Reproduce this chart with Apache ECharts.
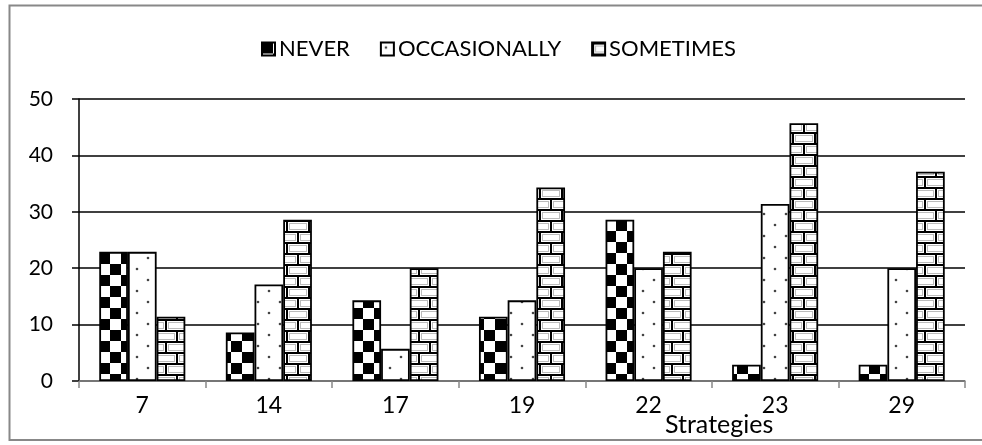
<!DOCTYPE html>
<html>
<head>
<meta charset="utf-8">
<script src="https://cdn.jsdelivr.net/npm/echarts@6/dist/echarts.min.js"></script>
<style>
html,body{margin:0;padding:0;background:#fff;}
#chart{width:982px;height:445px;}
</style>
</head>
<body>
<div id="chart"></div>
<script>
// Data
const categories = ['7', '14', '17', '19', '22', '23', '29'];
const seriesNames = ['NEVER', 'OCCASIONALLY', 'SOMETIMES'];
const neverValues = [22.9, 8.6, 14.3, 11.4, 28.6, 2.9, 2.9];
const occasionallyValues = [22.9, 17.1, 5.7, 14.3, 20.0, 31.4, 20.0];
const sometimesValues = [11.4, 28.6, 20.0, 34.3, 22.9, 45.7, 37.1];
const xAxisTitle = 'Strategies';

// Patterns
function makeCanvas(w, h, draw) {
  const c = document.createElement('canvas');
  c.width = w; c.height = h;
  draw(c.getContext('2d'));
  return c;
}
const checker = makeCanvas(22, 22, function (g) {
  g.fillStyle = '#fff'; g.fillRect(0, 0, 22, 22);
  g.fillStyle = '#000';
  g.fillRect(0, 0, 11, 11);
  g.fillRect(11, 11, 11, 11);
});
const dots = makeCanvas(22, 22, function (g) {
  g.fillStyle = '#fff'; g.fillRect(0, 0, 22, 22);
  g.fillStyle = '#444';
  g.beginPath(); g.arc(5, 5, 1.3, 0, Math.PI * 2); g.fill();
  g.beginPath(); g.arc(16, 16, 1.3, 0, Math.PI * 2); g.fill();
});
const brick = makeCanvas(22, 22, function (g) {
  g.fillStyle = '#fff'; g.fillRect(0, 0, 22, 22);
  g.strokeStyle = '#bbb'; g.lineWidth = 1;
  g.strokeRect(3.5, 3.5, 17, 6);
  g.strokeRect(14.5, 14.5, 17, 6);
  g.strokeRect(-7.5, 14.5, 17, 6);
  g.fillStyle = '#000';
  g.fillRect(0, 0, 22, 2);
  g.fillRect(0, 11, 22, 2);
  g.fillRect(0, 0, 2, 11);
  g.fillRect(11, 11, 2, 11);
});
const patterns = [checker, dots, brick];
const valuesList = [neverValues, occasionallyValues, sometimesValues];

const FONT = 'Lato';
const chart = echarts.init(document.getElementById('chart'));
chart.setOption({
  animation: false,
  backgroundColor: '#fff',
  textStyle: { fontFamily: FONT },
  legend: {
    top: 33,
    left: 256,
    itemWidth: 13,
    itemHeight: 13,
    itemGap: 30,
    icon: 'rect',
    textStyle: { fontFamily: FONT, fontSize: 22, color: '#000', padding: [0, 0, 0, -1] },
    data: seriesNames
  },
  grid: { left: 79, right: 17, top: 99, bottom: 64, containLabel: false },
  xAxis: {
    type: 'category',
    data: categories,
    axisLine: { lineStyle: { color: '#888', width: 1.5 } },
    axisTick: { show: true, length: 7, lineStyle: { color: '#888', width: 1.5 } },
    axisLabel: { fontFamily: FONT, fontSize: 23, color: '#000', margin: 13 }
  },
  yAxis: {
    type: 'value',
    min: 0, max: 50, interval: 10,
    axisLine: { show: true, lineStyle: { color: '#000', width: 1.5 } },
    axisTick: { show: true, length: 7, lineStyle: { color: '#000', width: 1.5 } },
    axisLabel: { fontFamily: FONT, fontSize: 21, color: '#000', margin: 26 },
    splitLine: { lineStyle: { color: '#000', width: 1.5 } }
  },
  graphic: [
    { type: 'rect', z: -1, shape: { x: 9.5, y: 5.5, width: 1100, height: 434.5 },
      style: { fill: 'none', stroke: '#888', lineWidth: 2 } },
    { type: 'text', left: 665, top: 412, style: { text: xAxisTitle, font: '25px ' + FONT, fill: '#000' } }
  ],
  series: seriesNames.map(function (name, i) {
    return {
      name: name,
      type: 'bar',
      data: valuesList[i],
      barGap: '0%',
      barCategoryGap: '32%',
      itemStyle: {
        color: { image: patterns[i], repeat: 'repeat' },
        borderColor: '#000',
        borderWidth: 1.8
      }
    };
  })
});
</script>
</body>
</html>
